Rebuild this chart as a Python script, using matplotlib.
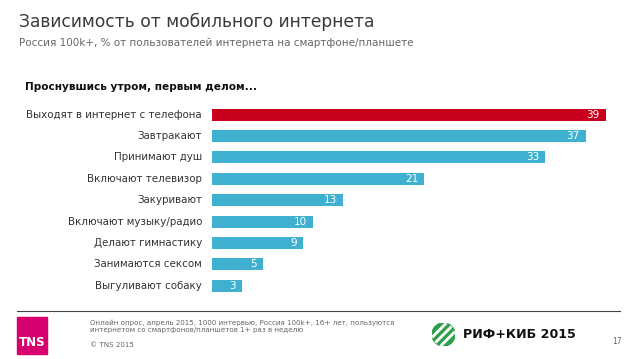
import matplotlib.pyplot as plt
from matplotlib.patches import Circle, Rectangle, Polygon
from matplotlib.lines import Line2D

# data
labels = ["Выходят в интернет с телефона", "Завтракают", "Принимают душ",
          "Включают телевизор", "Закуривают", "Включают музыку/радио",
          "Делают гимнастику", "Занимаются сексом", "Выгуливают собаку"]
values = [39, 37, 33, 21, 13, 10, 9, 5, 3]

title = "Зависимость от мобильного интернета"
subtitle = "Россия 100k+, % от пользователей интернета на смартфоне/планшете"
header = "Проснувшись утром, первым делом..."
note = ("Онлайн опрос, апрель 2015, 1000 интервью, Россия 100k+, 16+ лет, пользуются\n"
        "интернетом со смартфонов/планшетов 1+ раз в неделю")

W, H = 638, 359
RED = "#c8001e"
BLUE = "#3fb0d0"

def fx(x):
    return x / W

def fy(y):
    return 1 - y / H

fig = plt.figure(figsize=(W / 100, H / 100), dpi=100)
fig.patch.set_facecolor("white")

# bars
ax = fig.add_axes([fx(212), fy(296.5), fx(622) - fx(212), (296.5 - 103.8) / H])
colors = [RED] + [BLUE] * (len(values) - 1)
ypos = list(range(len(values)))
ax.barh(ypos, values, height=0.56, color=colors)
ax.set_xlim(0, 410 / 10.1)
ax.set_ylim(len(values) - 0.5, -0.5)
ax.axis("off")
for i, v in enumerate(values):
    ax.text(v - 0.6, i, str(v), ha="right", va="center", color="white", fontsize=7.5)
    ax.text(-1.0, i, labels[i], ha="right", va="center", color="#333333", fontsize=7.35)

# titles
fig.text(fx(19), fy(22), title, fontsize=12.3, color="#3a3a3a", va="center")
fig.text(fx(19), fy(43), subtitle, fontsize=7.45, color="#666666", va="center")
fig.text(fx(25), fy(87), header, fontsize=7.6, fontweight="bold", color="#111111", va="center")

# footer
fig.add_artist(Line2D([fx(17), fx(620)], [fy(311), fy(311)], color="#444444", lw=0.8))
fig.add_artist(Rectangle((fx(17), fy(354)), fx(47) - fx(17), (354 - 317) / H,
                         color="#d6006f", transform=fig.transFigure))
fig.text(fx(32), fy(343), "TNS", fontsize=8.5, fontweight="bold", color="white",
         ha="center", va="center")
fig.text(fx(90), fy(326), note, fontsize=5.1, color="#666666", va="center", linespacing=1.25)
fig.text(fx(90), fy(345), "© TNS 2015", fontsize=5.1, color="#666666", va="center")

# logo
lax = fig.add_axes([fx(432), fy(346), fx(455) - fx(432), 23 / H])
lax.set_xlim(-1, 1)
lax.set_ylim(-1, 1)
lax.axis("off")
circ = Circle((0, 0), 1, color="#2e9e4a")
lax.add_patch(circ)
for k in [-0.75, 0.0, 0.75]:
    band = Polygon([(k - 0.09 - 2, -2), (k + 0.09 - 2, -2), (k + 0.09 + 2, 2), (k - 0.09 + 2, 2)],
                   closed=True, color="white")
    band.set_clip_path(circ)
    lax.add_patch(band)
fig.text(fx(463), fy(335), "РИФ+КИБ 2015", fontsize=9.1, fontweight="bold", color="#111111",
         va="center")
fig.text(fx(612), fy(341), "17", fontsize=5.5, color="#666666", va="center")

fig.savefig("out.png", dpi=100)
